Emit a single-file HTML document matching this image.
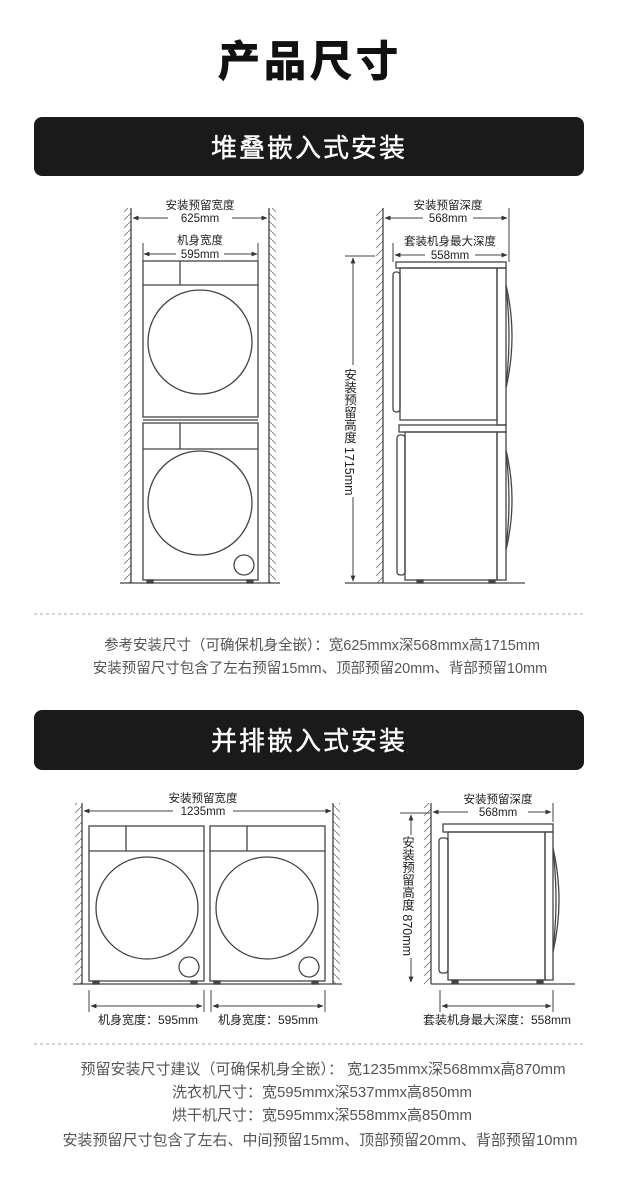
<!DOCTYPE html>
<html><head><meta charset="utf-8"><style>
body{margin:0;background:#fff;}
svg{display:block;}
text{font-family:"Liberation Sans","Noto Sans CJK SC",sans-serif;}
</style></head><body>
<svg width="620" height="1187" viewBox="0 0 620 1187" xmlns="http://www.w3.org/2000/svg">
<defs>
<pattern id="hl" width="8" height="8" patternUnits="userSpaceOnUse"><path d="M0 8 L8 0" stroke="#777" stroke-width="0.8"/></pattern>
<pattern id="hr" width="8" height="8" patternUnits="userSpaceOnUse"><path d="M0 0 L8 8" stroke="#777" stroke-width="0.8"/></pattern>
<marker id="a" viewBox="0 0 10 10" refX="9" refY="5" markerWidth="6" markerHeight="6" orient="auto-start-reverse"><path d="M0 1 L10 5 L0 9z" fill="#333"/></marker>
</defs>
<text x="310" y="76" text-anchor="middle" font-size="42" font-weight="bold" fill="#111" stroke="#111" stroke-width="1" letter-spacing="4">产品尺寸</text>
<rect x="34" y="117" width="550" height="59" rx="8" fill="#1a1a1a"/>
<text x="309" y="157" text-anchor="middle" font-size="26" fill="#fff" stroke="#fff" stroke-width="0.4" letter-spacing="2">堆叠嵌入式安装</text>
<rect x="34" y="710" width="550" height="60" rx="8" fill="#1a1a1a"/>
<text x="309" y="750" text-anchor="middle" font-size="26" fill="#fff" stroke="#fff" stroke-width="0.4" letter-spacing="2">并排嵌入式安装</text>

<g stroke="#444" fill="none" stroke-width="1.3">
<!-- Diagram 1 -->
<rect x="124" y="208" width="7" height="375" fill="url(#hl)" stroke="none"/>
<rect x="269" y="208" width="7" height="375" fill="url(#hr)" stroke="none"/>
<line x1="131" y1="208" x2="131" y2="583"/><line x1="269" y1="208" x2="269" y2="583"/>
<line x1="120" y1="583" x2="280" y2="583"/>
<line x1="133" y1="218" x2="267" y2="218" marker-start="url(#a)" marker-end="url(#a)" stroke-width="1"/>
<line x1="143" y1="243" x2="143" y2="261" stroke-width="1"/><line x1="258" y1="243" x2="258" y2="261" stroke-width="1"/>
<line x1="144" y1="254" x2="257" y2="254" marker-start="url(#a)" marker-end="url(#a)" stroke-width="1"/>
<rect x="143" y="261" width="115" height="156"/><line x1="143" y1="285" x2="258" y2="285"/><line x1="180" y1="261" x2="180" y2="285"/>
<circle cx="200" cy="342" r="52"/>
<line x1="143" y1="420" x2="258" y2="420"/>
<rect x="143" y="423" width="115" height="157"/><line x1="143" y1="449" x2="258" y2="449"/><line x1="180" y1="423" x2="180" y2="449"/>
<circle cx="200" cy="503" r="52"/><circle cx="244" cy="565" r="10"/>
<rect x="147" y="580" width="6" height="3" fill="#444"/><rect x="247" y="580" width="6" height="3" fill="#444"/>
<!-- Diagram 2 -->
<rect x="376" y="208" width="7" height="375" fill="url(#hl)" stroke="none"/>
<line x1="383" y1="208" x2="383" y2="583"/>
<line x1="345" y1="583" x2="525" y2="583"/>
<line x1="385" y1="218" x2="507" y2="218" marker-start="url(#a)" marker-end="url(#a)" stroke-width="1"/>
<line x1="509" y1="208" x2="509" y2="262" stroke-width="1"/>
<line x1="393" y1="243" x2="393" y2="262" stroke-width="1"/>
<line x1="395" y1="255" x2="507" y2="255" marker-start="url(#a)" marker-end="url(#a)" stroke-width="1"/>
<line x1="345" y1="256" x2="375" y2="256" stroke-width="1"/>
<line x1="353" y1="258" x2="353" y2="365" marker-start="url(#a)" stroke-width="1"/>
<line x1="353" y1="497" x2="353" y2="581" marker-end="url(#a)" stroke-width="1"/>
<rect x="396" y="262" width="110" height="6"/>
<rect x="400" y="268" width="97" height="152"/>
<rect x="497" y="268" width="9" height="157"/>
<rect x="393" y="272" width="7" height="140" rx="3"/>
<path d="M506 285 Q518 336 506 388"/><path d="M506 287 Q512 336 506 386"/>
<rect x="399" y="425" width="107" height="7"/>
<rect x="405" y="432" width="92" height="148"/>
<rect x="497" y="432" width="9" height="148"/>
<rect x="397" y="435" width="8" height="140" rx="3"/>
<path d="M506 450 Q518 500 506 550"/><path d="M506 452 Q512 500 506 548"/>
<rect x="417" y="580" width="6" height="3" fill="#444"/><rect x="489" y="580" width="6" height="3" fill="#444"/>
<!-- Diagram 3 -->
<rect x="75" y="803" width="7" height="181" fill="url(#hl)" stroke="none"/>
<rect x="333" y="803" width="7" height="181" fill="url(#hr)" stroke="none"/>
<line x1="82" y1="803" x2="82" y2="984"/><line x1="333" y1="803" x2="333" y2="984"/>
<line x1="73" y1="984" x2="342" y2="984"/>
<line x1="84" y1="811" x2="331" y2="811" marker-start="url(#a)" marker-end="url(#a)" stroke-width="1"/>
<rect x="89" y="826" width="115" height="155"/><line x1="89" y1="851" x2="204" y2="851"/><line x1="126" y1="826" x2="126" y2="851"/>
<circle cx="147" cy="908" r="51"/><circle cx="189" cy="967" r="10"/>
<rect x="210" y="826" width="115" height="155"/><line x1="210" y1="851" x2="325" y2="851"/><line x1="247" y1="826" x2="247" y2="851"/>
<circle cx="267" cy="908" r="51"/><circle cx="309" cy="967" r="10"/>
<rect x="93" y="981" width="6" height="3" fill="#444"/><rect x="191" y="981" width="6" height="3" fill="#444"/>
<rect x="214" y="981" width="6" height="3" fill="#444"/><rect x="312" y="981" width="6" height="3" fill="#444"/>
<line x1="89" y1="990" x2="89" y2="1012" stroke-width="1"/><line x1="204" y1="990" x2="204" y2="1012" stroke-width="1"/>
<line x1="91" y1="1006" x2="202" y2="1006" marker-start="url(#a)" marker-end="url(#a)" stroke-width="1"/>
<line x1="211" y1="990" x2="211" y2="1012" stroke-width="1"/><line x1="325" y1="990" x2="325" y2="1012" stroke-width="1"/>
<line x1="213" y1="1006" x2="323" y2="1006" marker-start="url(#a)" marker-end="url(#a)" stroke-width="1"/>
<!-- Diagram 4 -->
<rect x="424" y="803" width="7" height="181" fill="url(#hl)" stroke="none"/>
<line x1="431" y1="803" x2="431" y2="984"/>
<line x1="431" y1="984" x2="575" y2="984"/>
<line x1="433" y1="812" x2="551" y2="812" marker-start="url(#a)" marker-end="url(#a)" stroke-width="1"/>
<line x1="553" y1="803" x2="553" y2="822" stroke-width="1"/>
<line x1="400" y1="813" x2="430" y2="813" stroke-width="1"/>
<line x1="411" y1="815" x2="411" y2="835" marker-start="url(#a)" stroke-width="1"/>
<line x1="411" y1="958" x2="411" y2="982" marker-end="url(#a)" stroke-width="1"/>
<rect x="443" y="824" width="110" height="8"/>
<rect x="448" y="832" width="97" height="148"/>
<rect x="545" y="832" width="8" height="148"/>
<rect x="439" y="838" width="9" height="135" rx="3"/>
<path d="M553 848 Q565 900 553 952"/><path d="M553 850 Q559 900 553 950"/>
<rect x="452" y="980" width="6" height="3" fill="#444"/><rect x="537" y="980" width="6" height="3" fill="#444"/>
<line x1="440" y1="990" x2="440" y2="1012" stroke-width="1"/><line x1="553" y1="990" x2="553" y2="1012" stroke-width="1"/>
<line x1="442" y1="1006" x2="551" y2="1006" marker-start="url(#a)" marker-end="url(#a)" stroke-width="1"/>
</g>

<g font-size="11.5" fill="#222" text-anchor="middle">
<rect x="168" y="212" width="64" height="12" fill="#fff"/>
<text x="200" y="209">安装预留宽度</text><text x="200" y="222">625mm</text>
<rect x="176" y="248" width="48" height="12" fill="#fff"/>
<text x="200" y="244">机身宽度</text><text x="200" y="258">595mm</text>
<rect x="423" y="212" width="50" height="12" fill="#fff"/>
<text x="448" y="209">安装预留深度</text><text x="448" y="222">568mm</text>
<rect x="425" y="249" width="50" height="12" fill="#fff"/>
<text x="450" y="245">套装机身最大深度</text><text x="450" y="259">558mm</text>
<text transform="translate(349,432)" writing-mode="tb" font-size="12.5" text-anchor="middle">安装预留高度 1715mm</text>
<rect x="173" y="805" width="60" height="12" fill="#fff"/>
<text x="203" y="802">安装预留宽度</text><text x="203" y="815">1235mm</text>
<text x="148" y="1024" font-size="12">机身宽度：595mm</text>
<text x="268" y="1024" font-size="12">机身宽度：595mm</text>
<rect x="468" y="806" width="60" height="12" fill="#fff"/>
<text x="498" y="803">安装预留深度</text><text x="498" y="816">568mm</text>
<text transform="translate(407,896)" writing-mode="tb" font-size="12.5" text-anchor="middle">安装预留高度 870mm</text>
<text x="497" y="1024" font-size="12">套装机身最大深度：558mm</text>
</g>

<line x1="34" y1="614" x2="584" y2="614" stroke="#aaa" stroke-dasharray="3,3"/>
<line x1="34" y1="1044" x2="584" y2="1044" stroke="#aaa" stroke-dasharray="3,3"/>
<g font-size="14.5" fill="#555" text-anchor="middle">
<text x="322" y="650">参考安装尺寸（可确保机身全嵌）：宽625mmx深568mmx高1715mm</text>
<text x="320" y="673">安装预留尺寸包含了左右预留15mm、顶部预留20mm、背部预留10mm</text>
<text x="323" y="1074" font-size="15">预留安装尺寸建议（可确保机身全嵌）： 宽1235mmx深568mmx高870mm</text>
<text x="322" y="1097" font-size="15">洗衣机尺寸：宽595mmx深537mmx高850mm</text>
<text x="322" y="1120" font-size="15">烘干机尺寸：宽595mmx深558mmx高850mm</text>
<text x="320" y="1145" font-size="15">安装预留尺寸包含了左右、中间预留15mm、顶部预留20mm、背部预留10mm</text>
</g>
</svg>
</body></html>
